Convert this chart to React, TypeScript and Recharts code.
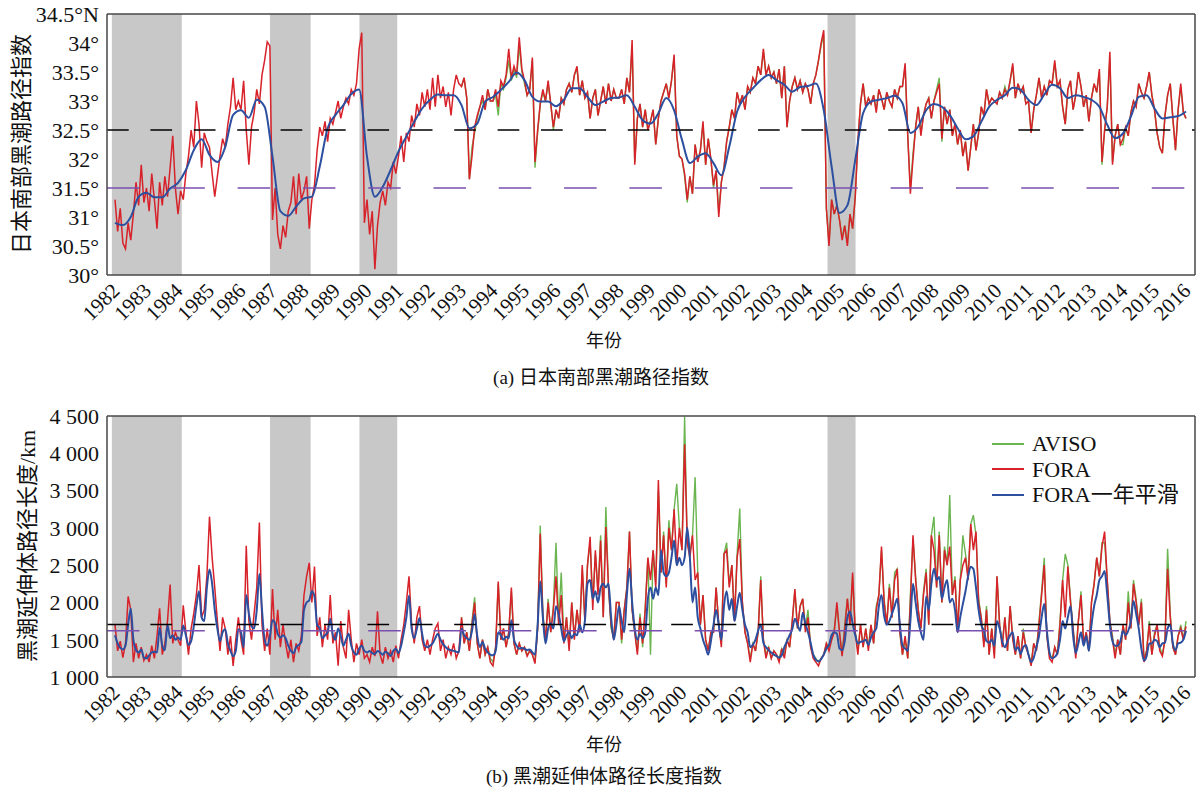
import {
  ComposedChart,
  Line,
  XAxis,
  YAxis,
  ReferenceArea,
  ReferenceLine,
  Legend,
} from "recharts";

const FONT = '"Liberation Serif", "Noto Sans CJK SC", serif';

const RED = "#d7222a";
const GREEN = "#6ab54f";
const BLUE = "#2c4f9f";
const PURPLE = "#7a4fb0";
const FRAME = "#474747";
const BAND = "#c8c8c8";

// year ticks and shaded large-meander periods
const years = [
  1982, 1983, 1984, 1985, 1986, 1987, 1988, 1989, 1990, 1991, 1992, 1993,
  1994, 1995, 1996, 1997, 1998, 1999, 2000, 2001, 2002, 2003, 2004, 2005,
  2006, 2007, 2008, 2009, 2010, 2011, 2012, 2013, 2014, 2015, 2016,
];
const meanderPeriods = [
  [1981.9, 1984.12],
  [1986.92, 1988.21],
  [1989.76, 1990.96],
  [2004.62, 2005.51],
];
const X_DOMAIN = [1981.746, 2016.286];

// (a) path index south of Japan, monthly from 1982.0 (FORA)
const foraLatA = [
  31.3, 30.75, 31.15, 30.55, 30.45, 30.9, 30.6, 31.05, 31.6, 31.2, 31.9, 31.25, // 1982
  31.5, 31.1, 31.75, 31.3, 30.8, 31.6, 31.2, 31.7, 31.35, 31.85, 32.4, 31.5, // 1983
  31.05, 31.45, 31.3, 31.75, 32.05, 32.5, 32.2, 33.0, 32.6, 31.85, 32.45, 32.3, // 1984
  32.2, 31.75, 31.35, 31.7, 32.05, 32.35, 32.2, 32.6, 32.9, 33.4, 32.85, 33.0, // 1985
  32.85, 33.35, 32.5, 31.9, 32.55, 32.8, 33.2, 32.95, 33.45, 33.7, 34.02, 33.95, // 1986
  30.95, 31.5, 30.7, 30.45, 30.85, 30.65, 31.1, 31.25, 31.7, 31.05, 31.75, 31.3, // 1987
  31.45, 31.7, 30.8, 31.3, 31.55, 32.15, 32.55, 32.4, 32.65, 32.3, 32.7, 32.6, // 1988
  32.8, 33.0, 32.7, 32.9, 33.05, 32.95, 33.2, 33.1, 33.3, 33.9, 34.18, 30.9, // 1989
  31.3, 30.7, 31.1, 30.1, 30.85, 31.25, 31.45, 31.2, 31.6, 31.5, 31.95, 31.75, // 1990
  32.05, 32.4, 31.95, 32.45, 32.3, 32.75, 32.55, 32.95, 32.75, 33.15, 32.9, 33.2, // 1991
  32.85, 33.4, 32.9, 33.45, 33.05, 33.25, 32.9, 33.15, 32.75, 33.2, 33.45, 33.3, // 1992
  33.25, 33.4, 33.05, 31.65, 32.05, 32.55, 32.75, 32.9, 33.1, 32.85, 33.2, 33.0, // 1993
  33.0, 33.2, 32.9, 33.35, 33.25, 33.45, 33.9, 33.4, 33.6, 33.45, 34.1, 33.55, // 1994
  33.35, 33.1, 33.2, 33.75, 31.95, 32.5, 32.95, 33.2, 33.0, 33.35, 32.95, 32.55, // 1995
  32.85, 32.7, 33.05, 32.95, 33.2, 33.3, 33.15, 33.45, 33.6, 33.1, 33.35, 33.05, // 1996
  33.15, 32.7, 33.05, 33.2, 32.75, 33.0, 33.25, 32.95, 33.3, 33.0, 33.2, 33.05, // 1997
  33.05, 33.2, 32.95, 33.4, 33.15, 34.05, 31.9, 32.7, 32.95, 32.55, 32.85, 32.5, // 1998
  32.65, 32.85, 32.25, 32.7, 33.0, 33.15, 33.3, 33.05, 33.35, 33.8, 32.4, 32.05, // 1999
  32.0, 31.75, 31.3, 31.7, 31.4, 32.25, 31.95, 32.15, 32.65, 31.9, 32.35, 32.0, // 2000
  31.55, 31.8, 31.0, 31.6, 31.85, 32.3, 32.55, 32.85, 32.7, 33.15, 32.95, 33.1, // 2001
  32.85, 33.25, 33.15, 33.4, 33.3, 33.6, 33.45, 33.9, 33.45, 33.6, 33.4, 33.5, // 2002
  33.3, 33.55, 33.05, 33.6, 32.55, 33.0, 33.25, 33.4, 33.2, 33.35, 33.15, 33.3, // 2003
  33.2, 32.95, 33.3, 33.45, 33.7, 34.0, 34.22, 31.15, 30.5, 31.3, 31.05, 31.2, // 2004
  30.95, 30.6, 30.85, 30.5, 31.05, 30.8, 31.35, 32.3, 32.95, 33.3, 32.9, 33.05, // 2005
  32.95, 33.1, 32.8, 33.2, 33.05, 32.85, 33.15, 33.0, 32.9, 33.2, 33.05, 33.25, // 2006
  33.25, 33.65, 32.4, 31.4, 32.0, 32.55, 32.9, 32.4, 32.75, 32.95, 33.05, 32.7, // 2007
  33.0, 33.15, 33.3, 32.35, 32.9, 32.6, 32.85, 32.4, 32.6, 32.25, 32.5, 32.05, // 2008
  32.3, 31.8, 32.2, 32.6, 32.15, 32.45, 32.9, 32.75, 33.2, 32.95, 33.05, 33.0, // 2009
  32.95, 33.15, 33.05, 33.2, 33.1, 33.35, 33.65, 33.05, 33.3, 33.15, 33.25, 32.95, // 2010
  33.0, 32.45, 32.85, 33.1, 33.4, 33.05, 33.25, 33.1, 33.35, 33.3, 33.7, 33.25, // 2011
  33.35, 32.9, 32.6, 33.2, 33.35, 32.85, 33.1, 33.5, 33.25, 32.9, 33.1, 32.65, // 2012
  33.05, 33.3, 33.15, 33.55, 31.95, 32.5, 32.9, 33.85, 31.9, 32.4, 32.6, 32.25, // 2013
  32.35, 32.55, 32.4, 32.8, 33.0, 32.9, 33.3, 33.15, 33.05, 33.25, 33.5, 33.1, // 2014
  32.85, 32.45, 32.2, 32.1, 32.75, 33.1, 33.3, 32.7, 32.15, 32.85, 33.3, 32.8, // 2015
  32.7, // 2016
];

// (a) AVISO, monthly from 1993.0
const avisoLatA = [
  33.25, 33.4, 33.05, 31.65, 32.2, 32.45, 32.7, 32.9, 33.0, 32.85, 33.2, 33.0, // 1993
  33.0, 33.1, 32.75, 33.3, 33.2, 33.4, 33.7, 33.35, 33.55, 33.4, 33.95, 33.5, // 1994
  33.3, 33.1, 33.2, 33.7, 31.85, 32.45, 32.95, 33.15, 33.0, 33.3, 32.95, 32.5, // 1995
  32.85, 32.7, 33.05, 32.95, 33.2, 33.3, 33.15, 33.45, 33.55, 33.1, 33.35, 33.05, // 1996
  33.15, 32.7, 33.05, 33.2, 32.75, 33.0, 33.25, 32.95, 33.3, 33.0, 33.2, 33.05, // 1997
  33.05, 33.2, 32.95, 33.4, 33.15, 33.95, 31.95, 32.7, 32.95, 32.55, 32.85, 32.5, // 1998
  32.65, 32.85, 32.25, 32.7, 33.0, 33.15, 33.3, 33.05, 33.35, 33.75, 32.4, 32.05, // 1999
  32.0, 31.7, 31.25, 31.7, 31.4, 32.25, 31.95, 32.15, 32.6, 31.9, 32.35, 32.0, // 2000
  31.5, 31.8, 31.1, 31.6, 31.85, 32.3, 32.55, 32.85, 32.7, 33.15, 32.95, 33.1, // 2001
  32.85, 33.25, 33.15, 33.4, 33.3, 33.6, 33.45, 33.85, 33.45, 33.6, 33.4, 33.5, // 2002
  33.3, 33.55, 33.05, 33.6, 32.55, 33.0, 33.25, 33.4, 33.2, 33.35, 33.15, 33.3, // 2003
  33.2, 32.95, 33.3, 33.45, 33.7, 33.95, 34.15, 31.15, 30.55, 31.3, 31.05, 31.2, // 2004
  30.95, 30.65, 30.85, 30.55, 31.05, 30.8, 31.35, 32.3, 32.95, 33.3, 32.9, 33.05, // 2005
  32.95, 33.1, 32.85, 33.2, 33.05, 32.85, 33.15, 33.0, 32.9, 33.2, 33.05, 33.25, // 2006
  33.25, 33.6, 32.4, 31.5, 32.1, 32.55, 32.9, 32.45, 32.75, 32.95, 33.05, 32.7, // 2007
  33.0, 33.2, 33.4, 32.3, 32.9, 32.6, 32.85, 32.4, 32.6, 32.25, 32.5, 32.05, // 2008
  32.3, 31.8, 32.2, 32.6, 32.15, 32.45, 32.9, 32.75, 33.2, 32.95, 33.05, 33.0, // 2009
  32.95, 33.15, 33.05, 33.25, 33.1, 33.35, 33.6, 33.05, 33.3, 33.15, 33.25, 32.95, // 2010
  33.0, 32.45, 32.85, 33.1, 33.4, 33.05, 33.25, 33.1, 33.35, 33.3, 33.65, 33.25, // 2011
  33.35, 32.9, 32.6, 33.2, 33.35, 32.85, 33.1, 33.5, 33.25, 32.9, 33.1, 32.65, // 2012
  33.05, 33.3, 33.15, 33.5, 31.9, 32.5, 32.9, 33.75, 31.95, 32.4, 32.6, 32.25, // 2013
  32.25, 32.55, 32.4, 32.8, 33.0, 32.9, 33.3, 33.15, 33.05, 33.25, 33.5, 33.1, // 2014
  32.85, 32.45, 32.2, 32.1, 32.75, 33.1, 33.3, 32.7, 32.15, 32.85, 33.25, 32.8, // 2015
  32.7, // 2016
];

// (a) one-year smoothed FORA, quarterly from 1982.0
const smoothLatA = [
  30.9, 30.86, 31.0, 31.35, // 1982
  31.42, 31.34, 31.34, 31.49, // 1983
  31.59, 31.81, 32.15, 32.34, // 1984
  32.07, 31.95, 32.21, 32.76, // 1985
  32.84, 32.71, 33.02, 32.9, // 1986
  32.04, 31.1, 31.02, 31.18, // 1987
  31.32, 31.35, 31.87, 32.53, // 1988
  32.76, 32.93, 33.12, 33.2, // 1989
  32.04, 31.35, 31.52, 31.81, // 1990
  32.13, 32.39, 32.64, 32.87, // 1991
  33.02, 33.11, 33.1, 33.1, // 1992
  32.93, 32.53, 32.61, 32.99, // 1993
  33.07, 33.19, 33.33, 33.49, // 1994
  33.36, 33.07, 32.99, 32.99, // 1995
  32.91, 33.02, 33.22, 33.22, // 1996
  33.07, 32.93, 32.99, 33.05, // 1997
  33.06, 33.1, 32.9, 32.67, // 1998
  32.61, 32.79, 33.05, 32.84, // 1999
  32.33, 31.93, 32.04, 32.1, // 2000
  31.93, 31.72, 32.21, 32.82, // 2001
  33.07, 33.22, 33.36, 33.45, // 2002
  33.36, 33.28, 33.16, 33.24, // 2003
  33.26, 33.3, 32.84, 31.87, // 2004
  31.07, 31.2, 31.98, 32.79, // 2005
  32.99, 33.02, 33.05, 33.09, // 2006
  32.96, 32.45, 32.56, 32.84, // 2007
  32.95, 32.9, 32.76, 32.53, // 2008
  32.34, 32.39, 32.64, 32.9, // 2009
  33.02, 33.1, 33.23, 33.19, // 2010
  33.02, 32.93, 33.11, 33.28, // 2011
  33.22, 33.05, 33.1, 33.07, // 2012
  33.02, 32.9, 32.59, 32.36, // 2013
  32.44, 32.73, 33.07, 33.1, // 2014
  32.87, 32.7, 32.72, 32.74, // 2015
  32.82, // 2016
];

// (b) extension path length in km, monthly from 1982.0 (FORA)
const foraLenB = [
  1700, 1350, 1480, 1260, 1450, 2080, 1900, 1200, 1450, 1250, 1400, 1220, // 1982
  1300, 1200, 1420, 1250, 1550, 1920, 1300, 1450, 1750, 2240, 1450, 1600, // 1983
  1500, 1420, 1960, 1600, 1300, 1650, 1850, 2100, 2500, 1800, 1900, 2350, // 1984
  3150, 2600, 2200, 1750, 1350, 1800, 1650, 1300, 1550, 1150, 1500, 1800, // 1985
  1500, 1300, 2760, 1750, 1500, 1850, 2200, 3070, 1700, 1350, 1650, 1300, // 1986
  2180, 1500, 1900, 1400, 1700, 1450, 1250, 1500, 1200, 1450, 1350, 1550, // 1987
  2100, 2350, 2530, 2000, 2480, 1550, 1800, 1400, 1700, 1500, 2100, 1450, // 1988
  1600, 1150, 1750, 1400, 1250, 1900, 1500, 1200, 1450, 1300, 1500, 1250, // 1989
  1300, 1200, 1400, 1280, 1880, 1300, 1180, 1400, 1250, 1350, 1200, 1420, // 1990
  1250, 1500, 1700, 2000, 2350, 1700, 1450, 1800, 1950, 1500, 1350, 1500, // 1991
  1300, 1500, 1650, 1720, 1350, 1500, 1250, 1400, 1300, 1450, 1250, 1350, // 1992
  1800, 1450, 1600, 1350, 1700, 2000, 1450, 1250, 1500, 1300, 1400, 1200, // 1993
  1150, 1400, 2280, 1500, 1650, 1400, 1600, 2200, 1450, 1300, 1450, 1350, // 1994
  1400, 1280, 1350, 1300, 1180, 1650, 2920, 1800, 1500, 2000, 1600, 1900, // 1995
  2350, 1700, 2100, 1450, 1800, 1350, 2000, 1500, 1900, 1600, 2500, 1750, // 1996
  2500, 2880, 1900, 2700, 2100, 2830, 1800, 3010, 2200, 1700, 1500, 2000, // 1997
  2000, 1500, 1900, 2200, 2950, 1900, 1600, 1300, 1800, 1450, 1900, 2600, // 1998
  2300, 2700, 2200, 3640, 2400, 2900, 2200, 3000, 2700, 3250, 2500, 3000, // 1999
  2700, 4120, 2800, 2600, 2900, 2300, 2400, 1700, 2100, 1500, 1350, 1600, // 2000
  1600, 2200, 1700, 1400, 2650, 2700, 2200, 2500, 1750, 2600, 2850, 2000, // 2001
  1600, 1450, 1200, 1450, 1350, 1600, 2300, 1500, 1250, 1400, 1250, 1350, // 2002
  1300, 1200, 1380, 1250, 1500, 1400, 1750, 2180, 1650, 1950, 2050, 1600, // 2003
  1800, 1400, 1250, 1200, 1150, 1250, 1300, 1450, 1350, 1500, 1600, 2000, // 2004
  1600, 1280, 1650, 2050, 1700, 2400, 1600, 1300, 1700, 1400, 1650, 1350, // 2005
  1700, 1450, 1900, 2100, 2750, 2000, 1700, 2200, 1800, 2300, 2450, 1600, // 2006
  1300, 1550, 1250, 2000, 2900, 2300, 1900, 1650, 2100, 2400, 1700, 2900, // 2007
  2700, 2200, 2900, 2000, 2700, 2500, 2750, 2100, 2300, 1600, 2300, 2500, // 2008
  2600, 2300, 3050, 2700, 2950, 2000, 1800, 1400, 1900, 1300, 1650, 1250, // 2009
  2350, 1700, 1400, 1800, 1350, 1950, 1500, 1300, 1550, 1250, 1600, 1400, // 2010
  1300, 1150, 1450, 1350, 1700, 2100, 2500, 1550, 1250, 1200, 1400, 1300, // 2011
  1700, 2300, 1800, 2480, 2000, 1650, 1250, 1750, 2100, 1450, 1600, 1350, // 2012
  2000, 2250, 2600, 2350, 2750, 2950, 2300, 1750, 1500, 1250, 1500, 1300, // 2013
  1700, 1500, 2000, 1650, 2250, 2000, 1700, 2000, 1200, 1350, 1700, 1300, // 2014
  1550, 1700, 1350, 1280, 1500, 2450, 1800, 1400, 1300, 1550, 1650, 1500, // 2015
  1680, // 2016
];

// (b) AVISO, monthly from 1993.0
const avisoLenB = [
  1800, 1450, 1600, 1350, 1750, 2070, 1450, 1250, 1500, 1300, 1400, 1250, // 1993
  1200, 1400, 2250, 1500, 1650, 1400, 1600, 2150, 1450, 1300, 1450, 1350, // 1994
  1400, 1300, 1350, 1300, 1200, 1650, 3030, 1850, 1500, 2050, 1600, 1950, // 1995
  2800, 1750, 2400, 1500, 1800, 1400, 2000, 1550, 1900, 1600, 2450, 1750, // 1996
  2500, 2800, 2000, 2650, 2150, 2900, 1800, 3280, 2200, 1650, 1550, 2000, // 1997
  2000, 1450, 1900, 2200, 2950, 1900, 1600, 1350, 1850, 1400, 1950, 2600, // 1998
  1300, 2700, 2250, 3500, 2400, 2950, 2250, 3100, 2700, 3250, 3590, 3000, // 1999
  2700, 4490, 2800, 2650, 2900, 3680, 2400, 1700, 2100, 1500, 1350, 1600, // 2000
  1600, 2200, 1700, 1450, 2650, 2800, 2250, 2500, 1800, 2650, 3260, 2000, // 2001
  1600, 1450, 1250, 1450, 1350, 1600, 2350, 1500, 1300, 1400, 1250, 1350, // 2002
  1300, 1250, 1380, 1300, 1500, 1400, 1750, 2150, 1650, 1950, 2050, 1650, // 2003
  1900, 1400, 1300, 1250, 1200, 1250, 1300, 1450, 1400, 1500, 1650, 1950, // 2004
  1600, 1300, 1700, 2050, 1700, 2350, 1600, 1350, 1700, 1400, 1650, 1400, // 2005
  1700, 1450, 1950, 2100, 2700, 2050, 1700, 2250, 1800, 2400, 2450, 1600, // 2006
  1300, 1500, 1250, 2100, 2850, 2350, 1900, 1650, 2150, 2450, 1700, 2900, // 2007
  3150, 2200, 2950, 2000, 2750, 2500, 3440, 2100, 2350, 1650, 2300, 2900, // 2008
  2650, 2350, 3050, 3170, 2900, 2050, 1800, 1450, 1950, 1300, 1650, 1300, // 2009
  2350, 1700, 1450, 1800, 1350, 1950, 1550, 1300, 1550, 1250, 1650, 1400, // 2010
  1300, 1200, 1450, 1350, 1750, 2150, 2600, 1550, 1300, 1250, 1400, 1300, // 2011
  1750, 2300, 2650, 2500, 2050, 1650, 1300, 1750, 2150, 1450, 1600, 1350, // 2012
  2000, 2250, 2600, 2350, 2800, 2800, 2300, 1750, 1550, 1300, 1500, 1300, // 2013
  1700, 1500, 2150, 1650, 2300, 2050, 1700, 2050, 1250, 1350, 1750, 1300, // 2014
  1600, 1700, 1400, 1300, 1500, 2720, 1850, 1400, 1300, 1550, 1700, 1500, // 2015
  1750, // 2016
];

// (b) one-year smoothed FORA, monthly from 1982.0
const smoothLenB = [
  1560, 1450, 1390, 1370, 1420, 1700, 1920, 1500, 1360, 1330, 1370, 1260, // 1982
  1250, 1290, 1330, 1340, 1330, 1660, 1420, 1360, 1700, 1520, 1560, 1500, // 1983
  1530, 1500, 1690, 1560, 1430, 1480, 1680, 1950, 2150, 1800, 1750, 2200, // 1984
  2440, 2250, 1900, 1650, 1480, 1600, 1640, 1450, 1350, 1280, 1350, 1640, // 1985
  1600, 1400, 2100, 1850, 1680, 1650, 1900, 2380, 1900, 1500, 1420, 1550, // 1986
  1760, 1720, 1580, 1530, 1560, 1520, 1420, 1350, 1320, 1400, 1430, 1470, // 1987
  1900, 2000, 2030, 2150, 2080, 1700, 1650, 1520, 1560, 1600, 1780, 1560, // 1988
  1500, 1650, 1550, 1420, 1500, 1580, 1420, 1330, 1300, 1380, 1420, 1350, // 1989
  1330, 1350, 1320, 1310, 1350, 1330, 1300, 1340, 1320, 1280, 1350, 1380, // 1990
  1320, 1420, 1600, 1800, 2090, 1650, 1520, 1650, 1790, 1580, 1420, 1400, // 1991
  1420, 1450, 1520, 1580, 1500, 1440, 1400, 1370, 1360, 1350, 1340, 1330, // 1992
  1650, 1560, 1520, 1500, 1620, 1840, 1550, 1400, 1470, 1380, 1330, 1300, // 1993
  1290, 1350, 1600, 1560, 1500, 1540, 1520, 1760, 1500, 1420, 1380, 1390, // 1994
  1380, 1360, 1370, 1330, 1300, 1700, 2280, 1800, 1450, 1650, 1720, 1650, // 1995
  1950, 1850, 1650, 1480, 1560, 1600, 1520, 1580, 1560, 1700, 1600, 1750, // 1996
  2250, 2300, 2050, 2150, 2000, 2200, 2250, 2200, 2250, 1800, 1500, 1700, // 1997
  1950, 1750, 1600, 2100, 2450, 2000, 1650, 1500, 1580, 1520, 1600, 2050, // 1998
  2200, 2050, 2200, 2100, 2700, 2400, 2350, 2400, 2600, 2830, 2500, 2600, // 1999
  2500, 2600, 3000, 2600, 2000, 2200, 1800, 1650, 1500, 1400, 1300, 1480, // 2000
  1700, 1900, 1700, 1500, 1950, 2150, 1900, 2050, 1750, 1950, 2130, 1900, // 2001
  1700, 1600, 1400, 1430, 1500, 1620, 1700, 1460, 1400, 1360, 1330, 1300, // 2002
  1280, 1260, 1290, 1400, 1480, 1560, 1640, 1780, 1700, 1620, 1860, 1720, // 2003
  1600, 1460, 1300, 1230, 1210, 1240, 1300, 1380, 1430, 1560, 1600, 1580, // 2004
  1380, 1360, 1480, 1800, 1880, 1720, 1560, 1450, 1470, 1480, 1500, 1430, // 2005
  1530, 1600, 1650, 1950, 2100, 1820, 1700, 1750, 1850, 1950, 2050, 1700, // 2006
  1420, 1380, 1350, 1750, 2250, 2000, 1750, 1600, 1500, 2080, 1900, 2250, // 2007
  2450, 2300, 2340, 2050, 2200, 2300, 2000, 2050, 1900, 1600, 1800, 1980, // 2008
  2150, 2350, 2480, 2450, 2200, 1900, 1700, 1620, 1480, 1460, 1500, 1420, // 2009
  1750, 1650, 1480, 1400, 1480, 1560, 1600, 1360, 1400, 1310, 1400, 1430, // 2010
  1300, 1200, 1260, 1400, 1550, 1800, 1980, 1620, 1330, 1250, 1270, 1320, // 2011
  1500, 1750, 1650, 1800, 1950, 1550, 1320, 1450, 1600, 1420, 1550, 1350, // 2012
  1700, 1950, 2100, 2300, 2350, 2420, 2100, 1700, 1480, 1420, 1420, 1480, // 2013
  1620, 1560, 1620, 1750, 2020, 1850, 1650, 1380, 1220, 1280, 1450, 1450, // 2014
  1500, 1480, 1400, 1450, 1460, 1650, 1700, 1450, 1360, 1450, 1460, 1500, // 2015
  1620, // 2016
];

const latTicks = [30, 30.5, 31, 31.5, 32, 32.5, 33, 33.5, 34, 34.5];
const lenTicks = [1000, 1500, 2000, 2500, 3000, 3500, 4000, 4500];

type Pt = { t: number; v: number };
const series = (start: number, perYear: number, vals: number[]): Pt[] =>
  vals.map((v, i) => ({ t: start + i / perYear, v }));

const fmtLat = (v: number) => (v === 34.5 ? "34.5°N" : `${v}°`);
const fmtLen = (v: number) =>
  `${Math.floor(v / 1000)} ${String(v % 1000).padStart(3, "0")}`;

const YearTick = (props: any) => {
  const { x, y, payload } = props;
  const ax = x + 6;
  const ay = y + 17;
  return (
    <text
      x={ax}
      y={ay}
      transform={`rotate(-45 ${ax} ${ay})`}
      textAnchor="end"
      fontSize={21}
      fontFamily={FONT}
      fill="#111"
    >
      {payload.value}
    </text>
  );
};

const legendContent = (props: any) => (
  <div style={{ fontFamily: FONT, fontSize: 22, color: "#111" }}>
    {(props.payload || []).map((p: any) => (
      <div
        key={p.value}
        style={{ display: "flex", alignItems: "center", height: 25.5, lineHeight: "25px" }}
      >
        <span
          style={{
            display: "inline-block",
            width: 32,
            borderTop: `2px solid ${p.color}`,
            marginRight: 8,
          }}
        />
        <span style={{ whiteSpace: "nowrap" }}>{p.value}</span>
      </div>
    ))}
  </div>
);

type PanelProps = {
  height: number;
  top: number;
  bottomSpace: number;
  yDomain: [number, number];
  yTicks: number[];
  fmt: (v: number) => string;
  fora: Pt[];
  aviso: Pt[];
  smooth: Pt[];
  upper: number;
  lower: number;
  legend?: boolean;
};

function Panel(p: PanelProps) {
  return (
    <ComposedChart
      width={1200}
      height={p.height}
      margin={{ top: p.top, right: 5, bottom: 0, left: 0 }}
    >
      <XAxis
        xAxisId="x"
        type="number"
        dataKey="t"
        domain={X_DOMAIN}
        ticks={years}
        allowDataOverflow
        mirror
        tick={false}
        tickSize={11}
        stroke={FRAME}
        strokeWidth={1.5}
      />
      <XAxis
        xAxisId="labels"
        type="number"
        dataKey="t"
        domain={X_DOMAIN}
        ticks={years}
        allowDataOverflow
        height={p.bottomSpace}
        axisLine={false}
        tickLine={false}
        tickSize={0}
        tickMargin={0}
        interval={0}
        tick={<YearTick />}
      />
      <XAxis
        xAxisId="top"
        orientation="top"
        type="number"
        dataKey="t"
        domain={X_DOMAIN}
        ticks={years}
        allowDataOverflow
        mirror
        tick={false}
        tickSize={11}
        stroke={FRAME}
        strokeWidth={1.5}
      />
      <YAxis
        yAxisId="y"
        type="number"
        domain={p.yDomain}
        ticks={p.yTicks}
        allowDataOverflow
        width={107}
        interval={0}
        tickLine={false}
        tickFormatter={p.fmt}
        tick={{ fontSize: 22, fill: "#111", fontFamily: FONT }}
        stroke={FRAME}
        strokeWidth={1.5}
      />
      <YAxis
        yAxisId="right"
        orientation="right"
        type="number"
        domain={p.yDomain}
        ticks={p.yTicks}
        allowDataOverflow
        mirror
        tick={false}
        tickSize={11}
        stroke={FRAME}
        strokeWidth={1.5}
      />

      {meanderPeriods.map(([a, b]) => (
        <ReferenceArea
          key={a}
          xAxisId="x"
          yAxisId="y"
          x1={a}
          x2={b}
          fill={BAND}
          fillOpacity={1}
          stroke="none"
        />
      ))}

      <Line
        xAxisId="x"
        yAxisId="y"
        data={p.aviso}
        dataKey="v"
        name="AVISO"
        stroke={GREEN}
        strokeWidth={1.4}
        dot={false}
        activeDot={false}
        isAnimationActive={false}
      />
      <Line
        xAxisId="x"
        yAxisId="y"
        data={p.fora}
        dataKey="v"
        name="FORA"
        stroke={RED}
        strokeWidth={1.5}
        dot={false}
        activeDot={false}
        isAnimationActive={false}
      />
      <Line
        xAxisId="x"
        yAxisId="y"
        type="monotone"
        data={p.smooth}
        dataKey="v"
        name="FORA一年平滑"
        stroke={BLUE}
        strokeWidth={2}
        dot={false}
        activeDot={false}
        isAnimationActive={false}
      />

      <ReferenceLine
        xAxisId="x"
        yAxisId="y"
        y={p.upper}
        stroke="#000"
        strokeWidth={1.5}
        strokeDasharray="21.7 21.7"
      />
      <ReferenceLine
        xAxisId="x"
        yAxisId="y"
        y={p.lower}
        stroke={PURPLE}
        strokeWidth={1.5}
        strokeDasharray="32.5 32.8"
      />

      {p.legend && (
        <Legend
          layout="horizontal"
          align="center"
          verticalAlign="middle"
          width={210}
          content={legendContent}
          wrapperStyle={{ left: 992, top: 31, width: 210 }}
        />
      )}
    </ComposedChart>
  );
}

const textStyle = (left: number, top: number, size: number, rotate = false) =>
  ({
    position: "absolute",
    left,
    top,
    transform: `translate(-50%, -50%)${rotate ? " rotate(-90deg)" : ""}`,
    fontFamily: FONT,
    fontSize: size,
    lineHeight: 1,
    whiteSpace: "nowrap",
    color: "#111",
  }) as const;

export default function App() {
  return (
    <div
      style={{
        position: "absolute",
        left: 0,
        top: 0,
        width: 1200,
        height: 795,
        overflow: "hidden",
        background: "#fff",
      }}
    >
      <div style={{ position: "absolute", left: 0, top: 0 }}>
        <Panel
          height={400}
          top={14}
          bottomSpace={125}
          yDomain={[30, 34.5]}
          yTicks={latTicks}
          fmt={fmtLat}
          fora={series(1982, 12, foraLatA)}
          aviso={series(1993, 12, avisoLatA)}
          smooth={series(1982, 4, smoothLatA)}
          upper={32.5}
          lower={31.5}
        />
      </div>
      <div style={{ position: "absolute", left: 0, top: 400 }}>
        <Panel
          height={395}
          top={16}
          bottomSpace={118}
          yDomain={[1000, 4500]}
          yTicks={lenTicks}
          fmt={fmtLen}
          fora={series(1982, 12, foraLenB)}
          aviso={series(1993, 12, avisoLenB)}
          smooth={series(1982, 12, smoothLenB)}
          upper={1705}
          lower={1620}
          legend
        />
      </div>

      <div style={textStyle(22, 144, 22, true)}>日本南部黑潮路径指数</div>
      <div style={textStyle(604, 341, 18)}>年份</div>
      <div style={textStyle(601, 377, 19)}>(a) 日本南部黑潮路径指数</div>

      <div style={textStyle(28, 546, 22, true)}>黑潮延伸体路径长度/km</div>
      <div style={textStyle(604, 745, 18)}>年份</div>
      <div style={textStyle(604, 776, 19)}>(b) 黑潮延伸体路径长度指数</div>
    </div>
  );
}
